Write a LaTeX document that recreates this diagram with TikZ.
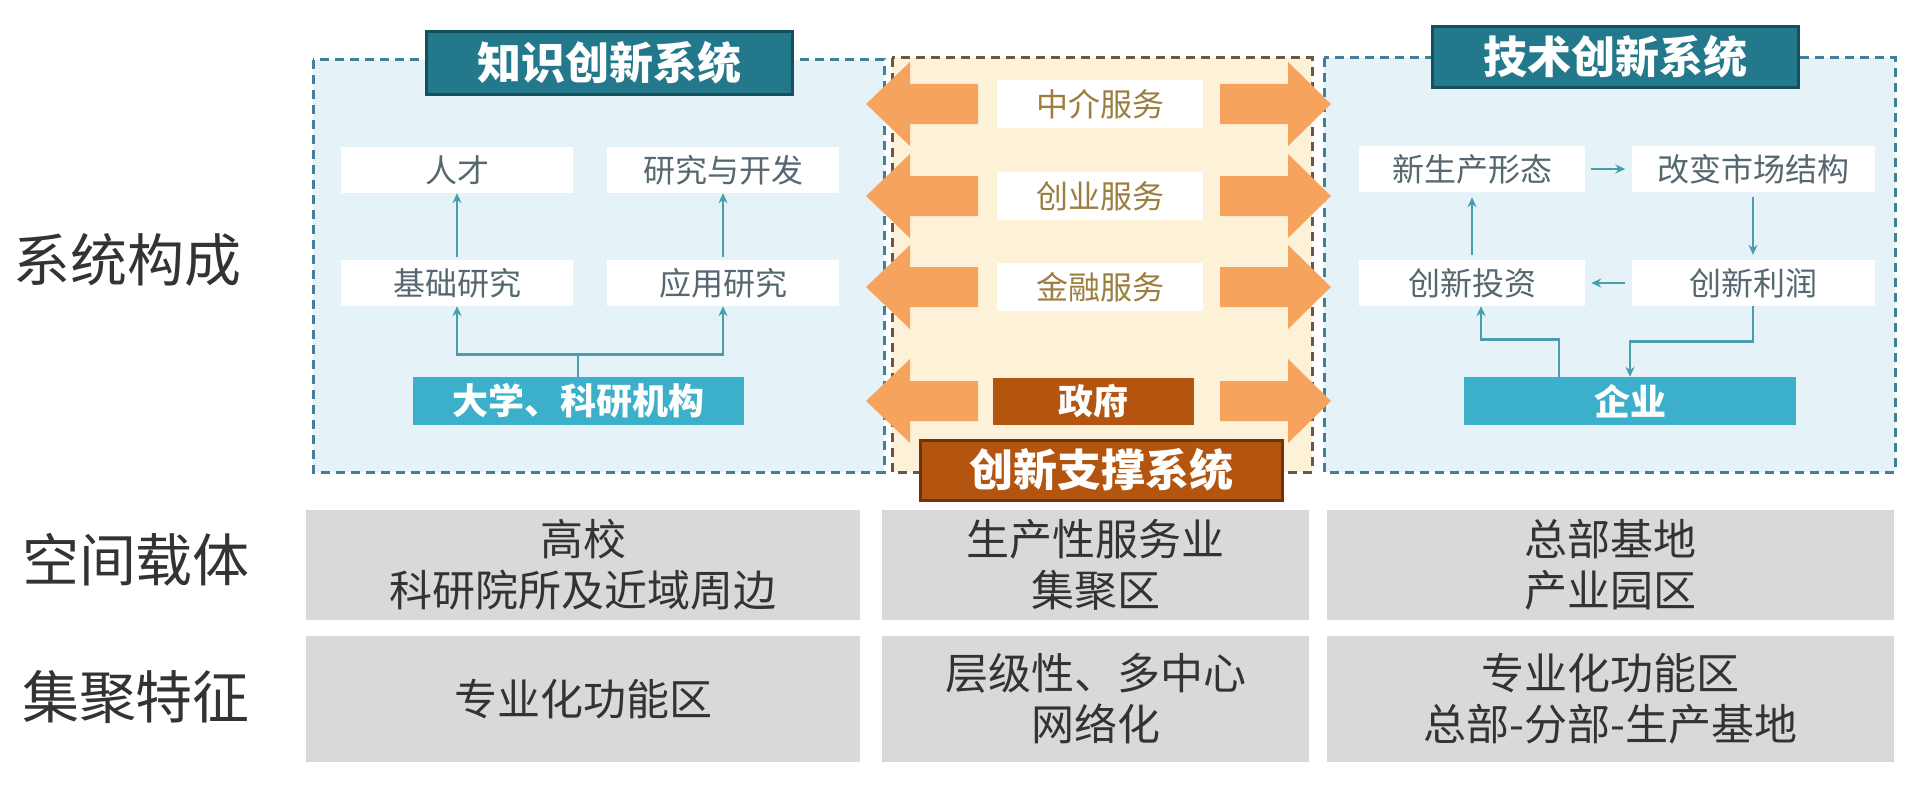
\documentclass[tikz,border=0pt]{standalone}
\usepackage{fontspec}
\newfontfamily\cjk{Noto Sans CJK SC}
\usetikzlibrary{arrows.meta}
\definecolor{boxblue}{HTML}{E5F3F9}
\definecolor{dashblue}{HTML}{3F8196}
\definecolor{cream}{HTML}{FDF1D8}
\definecolor{dashbrown}{HTML}{6B5844}
\definecolor{titleteal}{HTML}{23798B}
\definecolor{titleedge}{HTML}{16505C}
\definecolor{cyanbox}{HTML}{3CB0CA}
\definecolor{brownbox}{HTML}{B3550F}
\definecolor{brownedge}{HTML}{6E3410}
\definecolor{arroworange}{HTML}{F6A35E}
\definecolor{conncol}{HTML}{4A9DAE}
\definecolor{innertext}{HTML}{55676F}
\definecolor{goldtext}{HTML}{9C7E3E}
\definecolor{graybox}{HTML}{D9D9D9}
\definecolor{darktext}{HTML}{333333}
\tikzset{
  sysbox/.style={draw=dashblue, fill=boxblue, line width=3pt, dash pattern=on 9pt off 6pt},
  midbox/.style={draw=dashbrown, fill=cream, line width=3pt, dash pattern=on 9pt off 6pt},
  titlebox/.style={draw=titleedge, fill=titleteal, line width=3pt, text=white, inner sep=0pt,
    font=\cjk\bfseries\fontsize{44}{44}\selectfont},
  supbox/.style={draw=brownedge, fill=brownbox, line width=3pt, text=white, inner sep=0pt,
    font=\cjk\bfseries\fontsize{44}{44}\selectfont},
  itembox/.style={fill=white, inner sep=0pt, minimum width=232pt, minimum height=46pt,
    text=innertext, font=\cjk\fontsize{32}{32}\selectfont},
  svcbox/.style={fill=white, inner sep=0pt, minimum width=206pt, minimum height=48pt,
    text=goldtext, font=\cjk\fontsize{32}{32}\selectfont},
  basebox/.style={fill=cyanbox, inner sep=0pt, minimum width=331pt, minimum height=48pt,
    text=white, font=\cjk\bfseries\fontsize{36}{36}\selectfont},
  govbox/.style={fill=brownbox, inner sep=0pt, minimum width=201pt, minimum height=47pt,
    text=white, font=\cjk\bfseries\fontsize{35}{35}\selectfont},
  rowlabel/.style={text=darktext, inner sep=0pt, font=\cjk\fontsize{57}{57}\selectfont},
  cellbox/.style={fill=graybox, inner sep=0pt, align=center, text=darktext,
    font=\cjk\fontsize{43}{51}\selectfont},
  conn/.style={draw=conncol, line width=2.8pt, -{Stealth[length=10pt,width=9pt]}},
  orangearrow/.style={fill=arroworange, draw=none}
}
\begin{document}
\begin{tikzpicture}[x=1pt, y=-1pt]
\useasboundingbox (0,0) rectangle (1920,792);
\fill[white] (0,0) rectangle (1920,792);

% ---- system frames ----
\draw[sysbox] (313,60) rectangle (884,472);
\draw[midbox] (892,58) rectangle (1312,472);
\draw[sysbox] (1324,58) rectangle (1895,472);

% ---- titles ----
\node[titlebox, minimum width=366pt, minimum height=63pt] (tk) at (609,63) {知识创新系统};
\node[titlebox, minimum width=366pt, minimum height=61pt] (tt) at (1615,57) {技术创新系统};

% ---- knowledge innovation system ----
\node[itembox] (rencai) at (457,170) {人才};
\node[itembox] (yanjiu) at (723,170) {研究与开发};
\node[itembox] (jichu) at (457,283) {基础研究};
\node[itembox] (yingyong) at (723,283) {应用研究};
\node[basebox] (daxue) at (578,401) {大学、科研机构};
\draw[conn, shorten <=3pt] (jichu.north) -- (rencai.south);
\draw[conn, shorten <=3pt] (yingyong.north) -- (yanjiu.south);
\draw[conn] (daxue.north) -- ++(0,-22) -| (jichu.south);
\draw[conn] (daxue.north) -- ++(0,-22) -| (yingyong.south);

% ---- technology innovation system ----
\node[itembox, minimum width=226pt] (xin) at (1472,169) {新生产形态};
\node[itembox, minimum width=243pt] (gaibian) at (1753,169) {改变市场结构};
\node[itembox, minimum width=226pt] (touzi) at (1472,283) {创新投资};
\node[itembox, minimum width=243pt] (lirun) at (1753,283) {创新利润};
\node[basebox, minimum width=332pt] (qiye) at (1630,401) {企业};
\draw[conn, shorten <=6pt, shorten >=6pt] (xin.east) -- (gaibian.west);
\draw[conn, shorten <=6pt, shorten >=6pt] (lirun.west) -- (touzi.east);
\draw[conn, shorten <=5pt, shorten >=5pt] (gaibian.south) -- (lirun.north);
\draw[conn, shorten <=5pt, shorten >=5pt] (touzi.north) -- (xin.south);
\draw[conn] (lirun.south) -- ++(0,35) -| (qiye.north);
\draw[conn] ([xshift=-71pt]qiye.north) -- ++(0,-37) -| ([xshift=9pt]touzi.south);

% ---- innovation support system ----
\node[svcbox] (zhongjie) at (1100,104) {中介服务};
\node[svcbox] (chuangye) at (1100,196) {创业服务};
\node[svcbox] (jinrong) at (1100,287) {金融服务};
\node[govbox] (zhengfu) at (1093,401) {政府};
\foreach \yy in {104,196,287,401}{
  \fill[orangearrow] (978,\yy-20) -- (910,\yy-20) -- (910,\yy-42) -- (866,\yy)
     -- (910,\yy+42) -- (910,\yy+20) -- (978,\yy+20) -- cycle;
  \fill[orangearrow] (1220,\yy-20) -- (1288,\yy-20) -- (1288,\yy-42) -- (1331,\yy)
     -- (1288,\yy+42) -- (1288,\yy+20) -- (1220,\yy+20) -- cycle;
}
\node[supbox, minimum width=362pt, minimum height=60pt] (ts) at (1101,470) {创新支撑系统};

% ---- row labels ----
\node[rowlabel] (l1) at (127,260) {系统构成};
\node[rowlabel] (l2) at (136,560) {空间载体};
\node[rowlabel] (l3) at (136,697) {集聚特征};

% ---- bottom cells ----
\node[cellbox, minimum width=554pt, minimum height=110pt] (c11) at (583,565) {高校\\科研院所及近域周边};
\node[cellbox, minimum width=427pt, minimum height=110pt] (c12) at (1095.5,565) {生产性服务业\\集聚区};
\node[cellbox, minimum width=567pt, minimum height=110pt] (c13) at (1610.5,565) {总部基地\\产业园区};
\node[cellbox, minimum width=554pt, minimum height=126pt] (c21) at (583,699) {专业化功能区};
\node[cellbox, minimum width=427pt, minimum height=126pt] (c22) at (1095.5,699) {层级性、多中心\\网络化};
\node[cellbox, minimum width=567pt, minimum height=126pt] (c23) at (1610.5,699) {专业化功能区\\总部-分部-生产基地};
\end{tikzpicture}
\end{document}
